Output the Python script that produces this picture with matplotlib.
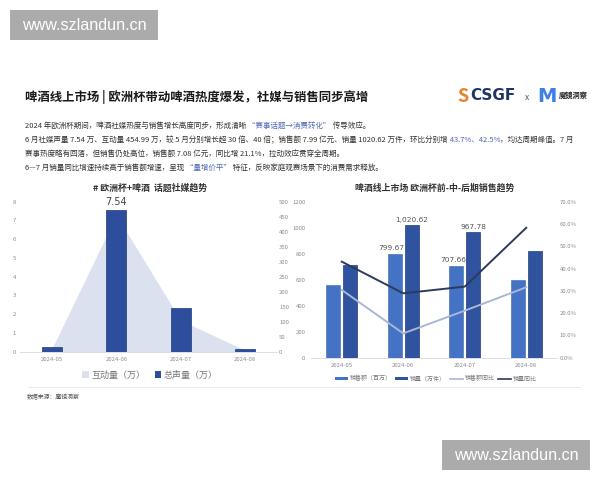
import matplotlib
matplotlib.use("Agg")
import matplotlib.pyplot as plt
from matplotlib.patches import Rectangle, Patch
from matplotlib.lines import Line2D
from matplotlib.ticker import FuncFormatter

FAM = ['Noto Sans CJK SC', 'DejaVu Sans']
plt.rcParams['font.family'] = FAM

# ---------------- data ----------------
months = ['2024-05', '2024-06', '2024-07', '2024-08']
# left chart: social media trend
voice_volume = [0.25, 7.54, 2.31, 0.12]          # 总声量（万）
interaction = [11.4, 454.99, 105.0, 5.0]          # 互动量（万）
left_ticks = [0, 1, 2, 3, 4, 5, 6, 7, 8]
left_right_ticks = [0, 50, 100, 150, 200, 250, 300, 350, 400, 450, 500]
# right chart: sales trend
sales_amount = [556.5, 799.67, 707.66, 598.0]     # 销售额（百万）
sales_volume = [716.2, 1020.62, 967.78, 823.0]    # 销量（万件）
amount_yoy = [0.304, 0.109, 0.211, 0.316]         # 销售额同比
volume_yoy = [0.431, 0.289, 0.319, 0.583]         # 销量同比
right_ticks = [0, 200, 400, 600, 800, 1000, 1200]
pct_ticks = [0.0, 0.1, 0.2, 0.3, 0.4, 0.5, 0.6, 0.7]
amount_labels = {1: '799.67', 2: '707.66'}
volume_labels = {1: '1,020.62', 2: '967.78'}

W, H = 600, 480
fig = plt.figure(figsize=(6, 4.8), dpi=100)
fig.patch.set_facecolor('white')


def fx(px):
    return px / W


def fy(py):
    return 1 - py / H


renderer = fig.canvas.get_renderer()

# ---------------- watermarks ----------------
for (x0, y0) in [(10, 10), (442, 440)]:
    fig.patches.append(Rectangle((fx(x0), fy(y0 + 30)), fx(148), 30 / H,
                                 transform=fig.transFigure, facecolor='#ABABAB',
                                 edgecolor='none', zorder=5))
    fig.text(fx(x0 + 74), fy(y0 + 15.5), 'www.szlandun.cn', color='white',
             fontsize=11.6, family=['Liberation Sans', 'DejaVu Sans'],
             ha='center', va='center', zorder=6)

# ---------------- header ----------------
fig.text(fx(25), fy(97), '啤酒线上市场 | 欧洲杯带动啤酒热度爆发，社媒与销售同步高增',
         fontsize=8.9, fontweight='bold', color='#1A1A1A', va='center')

# logo
fig.text(fx(463), fy(97), 'S', fontsize=13, fontweight='bold', color='#E8832A',
         va='center', ha='center')
fig.text(fx(470), fy(95), 'CSGF', fontsize=11, fontweight='bold', color='#1F3566',
         va='center', family=['DejaVu Sans'])
fig.text(fx(527), fy(97), 'x', fontsize=6, color='#555555', va='center', ha='center')
fig.text(fx(547), fy(96), 'M', fontsize=14, fontweight='bold', color='#3C7FE6',
         va='center', ha='center', family=['DejaVu Sans'])
fig.text(fx(559), fy(95), '魔镜洞察', fontsize=5.2, fontweight='bold', color='#222222',
         va='center')

BODY = '#333333'
BLUE = '#4F69B5'
body_fs = 5.45


def rich_line(x_px, y_px, parts):
    x = fx(x_px)
    for text, color in parts:
        t = fig.text(x, fy(y_px), text, color=color, fontsize=body_fs, va='center')
        bb = t.get_window_extent(renderer)
        x += bb.width / fig.bbox.width


rich_line(25, 126, [('2024 年欧洲杯期间，啤酒社媒热度与销售增长高度同步，形成清晰', BODY),
                    (' “赛事话题→消费转化”', BLUE), (' 传导效应。', BODY)])
rich_line(25, 140, [('6 月社媒声量 7.54 万、互动量 454.99 万，较 5 月分别增长超 30 倍、40 倍；销售额 7.99 亿元、销量 1020.62 万件，环比分别增', BODY),
                    (' 43.7%、42.5%', BLUE), ('，均达周期峰值。7 月', BODY)])
rich_line(25, 154, [('赛事热度略有回落，但销售仍处高位，销售额 7.08 亿元，同比增 21.1%，拉动效应贯穿全周期。', BODY)])
rich_line(25, 168, [('6—7 月销量同比增速持续高于销售额增速，呈现', BODY),
                    (' “量增价平”', BLUE), (' 特征，反映家庭观赛场景下的消费需求释放。', BODY)])

TICK = '#8C8C8C'
tick_fs = 4.3

# ---------------- left chart ----------------
axA = fig.add_axes([fx(20), fy(351.7), fx(257), 150 / H])
axB = axA.twinx()
axA.set_zorder(2)
axA.patch.set_visible(False)
axB.set_zorder(1)

xs = list(range(len(months)))
AREA = '#DCE1F0'
NAVY = '#2D4E9C'
axB.fill_between(xs, interaction, 0, color=AREA, linewidth=0)
axB.set_ylim(0, 500)
axB.set_yticks(left_right_ticks)
axA.bar(xs, voice_volume, width=0.31, color=NAVY, edgecolor='#1E3A7A', linewidth=0.5)
axA.set_ylim(0, 8)
axA.set_xlim(-0.5, 3.5)
axA.set_yticks(left_ticks)
axA.set_xticks(xs)
axA.set_xticklabels(months)
axA.text(1, voice_volume[1] + 0.2, f'{voice_volume[1]:.2f}', ha='center', va='bottom',
         fontsize=7, color='#444444', family=['DejaVu Sans'])
for ax in (axA, axB):
    for s in ax.spines.values():
        s.set_visible(False)
    ax.tick_params(length=0, labelsize=tick_fs, colors=TICK)
axA.spines['bottom'].set_visible(True)
axA.spines['bottom'].set_color('#D9D9D9')
axA.spines['bottom'].set_linewidth(0.6)
axA.tick_params(axis='y', pad=3)
axA.tick_params(axis='x', pad=4)
axB.tick_params(axis='y', pad=1.5)

fig.text(fx(150), fy(188), '# 欧洲杯+啤酒  话题社媒趋势', ha='center', va='center',
         fontsize=6.4, fontweight='bold', color='#333333')

fig.legend(handles=[Patch(facecolor=AREA, edgecolor='none', label='互动量（万）'),
                    Patch(facecolor=NAVY, edgecolor='none', label='总声量（万）')],
           loc='center', bbox_to_anchor=(fx(150), fy(375)), ncol=2, frameon=False,
           fontsize=6.5, handlelength=0.7, handleheight=0.7, handletextpad=0.3,
           columnspacing=1.0, labelcolor='#777777')

# ---------------- right chart ----------------
axC = fig.add_axes([fx(311), fy(357.7), fx(246), 156 / H])
axD = axC.twinx()
LB = '#4472C4'
DB = '#2F539F'
off = 0.14
bw = 0.23
axC.bar([x - off for x in xs], sales_amount, width=bw, color=LB, edgecolor='#3A64B0', linewidth=0.4)
axC.bar([x + off for x in xs], sales_volume, width=bw, color=DB, edgecolor='#203F80', linewidth=0.5)
axC.set_ylim(0, 1200)
axC.set_xlim(-0.5, 3.5)
axC.set_yticks(right_ticks)
axC.set_xticks(xs)
axC.set_xticklabels(months)
for i, lab in amount_labels.items():
    axC.text(i - off - 0.05, sales_amount[i] + 18, lab, ha='center', va='bottom',
             fontsize=5.3, color='#555555', family=['DejaVu Sans'])
for i, lab in volume_labels.items():
    axC.text(i + off, sales_volume[i] + 18, lab, ha='center', va='bottom',
             fontsize=5.3, color='#555555', family=['DejaVu Sans'])

L1 = '#A9B7D5'
L2 = '#2C3A5C'
axD.plot(xs, amount_yoy, color=L1, linewidth=1.4)
axD.plot(xs, volume_yoy, color=L2, linewidth=1.4)
axD.set_ylim(0, 0.7)
axD.set_yticks(pct_ticks)
axD.yaxis.set_major_formatter(FuncFormatter(lambda v, p: f'{v*100:.1f}%'))
for ax in (axC, axD):
    for s in ax.spines.values():
        s.set_visible(False)
    ax.tick_params(length=0, labelsize=tick_fs, colors=TICK)
axC.spines['bottom'].set_visible(True)
axC.spines['bottom'].set_color('#D9D9D9')
axC.spines['bottom'].set_linewidth(0.6)
axC.tick_params(axis='y', pad=4)
axC.tick_params(axis='x', pad=4)
axD.tick_params(axis='y', pad=2)

fig.text(fx(435), fy(188), '啤酒线上市场 欧洲杯前-中-后期销售趋势', ha='center', va='center',
         fontsize=6.4, fontweight='bold', color='#333333')

fig.legend(handles=[Patch(facecolor=LB, edgecolor='none', label='销售额（百万）'),
                    Patch(facecolor=DB, edgecolor='none', label='销量（万件）'),
                    Line2D([], [], color=L1, linewidth=1.2, label='销售额同比'),
                    Line2D([], [], color=L2, linewidth=1.2, label='销量同比')],
           loc='center', bbox_to_anchor=(fx(436), fy(378.5)), ncol=4, frameon=False,
           fontsize=4.3, handlelength=2.2, handleheight=0.5, handletextpad=0.3,
           columnspacing=0.6, labelcolor='#777777')

# separator and source
fig.add_artist(Line2D([fx(28), fx(580)], [fy(387), fy(387)], transform=fig.transFigure,
                      color='#E6E6E6', linewidth=0.6))
fig.text(fx(27), fy(397.5), '数据来源：魔镜洞察', fontsize=4.2, color='#555555', va='center')

fig.savefig('out.png', dpi=100)
